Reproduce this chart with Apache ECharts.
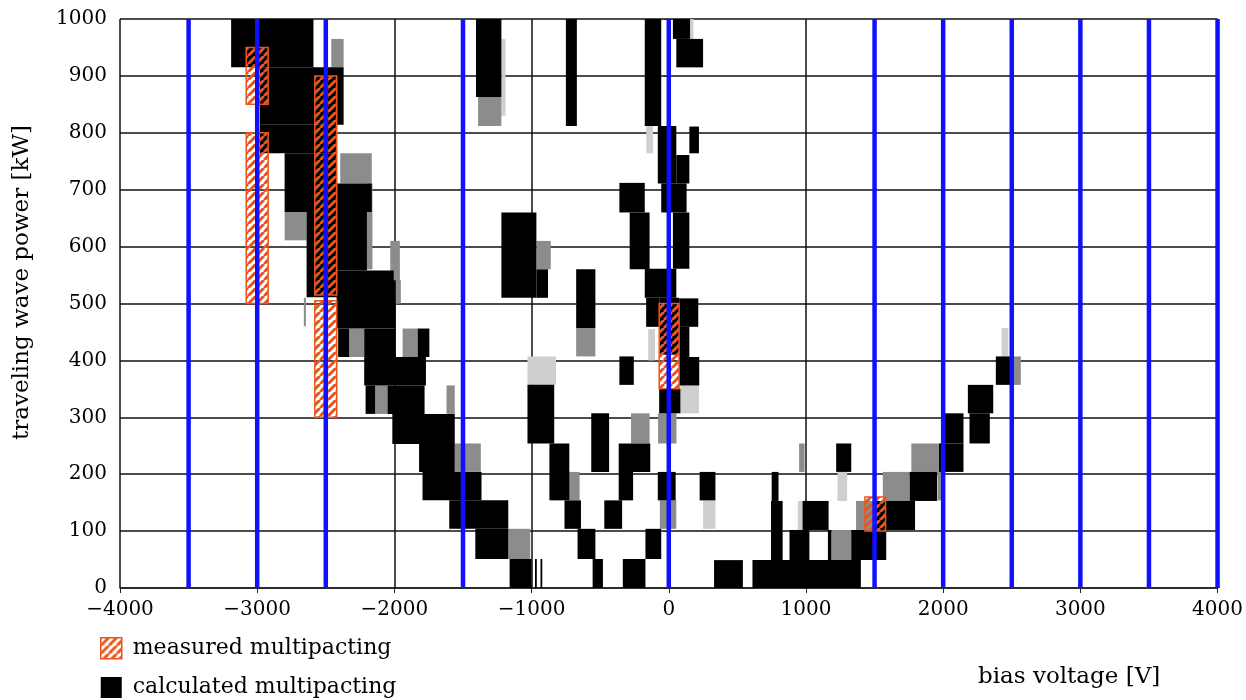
<!DOCTYPE html>
<html>
<head>
<meta charset="utf-8">
<script src="https://cdn.jsdelivr.net/npm/echarts@6/dist/echarts.min.js"></script>
<style>
html,body{margin:0;padding:0;background:#fff;}
#chart{width:1246px;height:700px;}
</style>
</head>
<body>
<div id="chart"></div>
<script>
// ---- data (voltage range [V] x0,x1 ; power range [kW] y0,y1) ----
const xTicks = [-4000, -3000, -2000, -1000, 0, 1000, 2000, 3000, 4000];
const yTicks = [0, 100, 200, 300, 400, 500, 600, 700, 800, 900, 1000];
const blueLines = [-3500, -3000, -2500, -1500, 0, 1500, 2000, 2500, 3000, 3500, 4000];

const measuredRects = [
  [-3080, -2920, 850, 950],
  [-3080, -2920, 500, 800],
  [-2580, -2420, 515, 900],
  [-2580, -2420, 300, 505],
  [-70, 75, 350, 500],
  [1430, 1580, 100, 160]
];

const calculatedRects = [
  [-3190,-2590,915,1000],[-2980,-2370,814,915],[-2980,-2420,764,814],[-2800,-2420,661,764],
  [-2420,-2165,661,711],[-2640,-2420,511,661],[-2420,-2200,558,661],[-2420,-2005,500,558],
  [-2420,-1990,456,541],[-2410,-2330,406,456],[-2220,-1990,406,456],[-1830,-1745,406,456],
  [-2220,-1770,356,406],[-2210,-2140,306,356],[-2050,-1780,306,356],[-2015,-1560,253,306],
  [-1820,-1560,204,253],[-1795,-1365,154,204],[-1600,-1170,104,154],[-1410,-1170,51,104],
  [-1160,-1000,0,51],[-975,-962,0,51],[-935,-922,0,51],
  [-1405,-1220,863,1000],[-750,-670,812,1000],[-175,-55,812,1000],[30,155,965,1000],[55,250,915,965],
  [-80,55,711,812],[55,150,711,761],[150,220,764,811],[-55,130,660,711],[30,150,561,660],
  [-360,-175,660,712],[-285,-140,560,660],[-1220,-965,510,660],[-965,-880,510,560],
  [-675,-535,457,560],[-175,55,510,561],[-165,-66,459,510],[-66,76,410,510],
  [76,215,459,509],[76,150,406,459],[76,222,356,406],[-70,85,307,350],
  [-360,-255,357,407],[-1030,-835,254,357],[-565,-435,204,307],[-870,-725,154,254],
  [-365,-135,204,254],[-365,-260,154,204],[-760,-640,104,154],[-470,-340,104,154],
  [-665,-535,51,104],[-555,-480,0,51],[-335,-170,0,51],[-170,-55,51,104],[-80,50,154,204],
  [225,340,154,204],[330,540,0,49],[610,1400,0,49],[745,830,49,153],[750,800,153,204],
  [880,1025,49,102],[975,1165,102,153],[1160,1185,49,102],[1330,1585,49,102],[1500,1580,102,153],
  [1220,1330,204,254],[1580,1795,102,153],[1756,1956,153,204],[1970,2148,204,254],
  [2007,2148,254,307],[2180,2365,307,357],[2192,2340,254,307],[2384,2488,357,407]
];

const calculatedGrayRects = [
  [-2460,-2370,915,965],[-2395,-2165,711,764],[-2800,-2640,611,661],[-2200,-2160,560,711],
  [-2030,-1960,500,610],[-2330,-2220,406,456],[-1940,-1830,406,456],[-2140,-2050,306,356],
  [-1620,-1560,306,356],[-1560,-1370,204,254],[-1170,-1010,51,104],[-1390,-1220,812,863],
  [-965,-860,560,610],[-675,-535,407,457],[-78,56,254,307],[-275,-140,254,307],
  [-860,-650,154,204],[-65,55,104,154],[1185,1330,49,102],[950,990,204,254],
  [1365,1430,102,153],[1430,1500,102,153],[1560,1756,153,204],[1768,1976,204,254],
  [2488,2566,357,407],[1960,2000,154,204],[-2660,-2645,460,510],[-1990,-1953,500,541]
];

const calculatedLightRects = [
  [-1220,-1190,830,965],[85,220,307,357],[-1030,-822,357,407],[2426,2475,407,457],
  [-164,-115,764,812],[155,180,950,1000],[250,340,104,154],[1230,1300,153,204],
  [-150,-100,400,455],[940,975,102,153]
];

// ---- styles ----
const ORANGE = '#e8561c';
const BLUE = '#1010ff';
const FONT = '"DejaVu Serif", "Liberation Serif", serif';

function makeHatch() {
  const c = document.createElement('canvas');
  c.width = 8; c.height = 8;
  const g = c.getContext('2d');
  g.strokeStyle = ORANGE;
  g.lineWidth = 3;
  g.beginPath();
  for (let k = -8; k <= 8; k += 8) {
    g.moveTo(k, 8); g.lineTo(k + 8, 0);
  }
  g.stroke();
  return c;
}
const hatch = { image: makeHatch(), repeat: 'repeat' };

function rectRender(style) {
  return function (params, api) {
    const a = api.coord([api.value(0), api.value(3)]);
    const b = api.coord([api.value(1), api.value(2)]);
    return {
      type: 'rect',
      shape: { x: a[0], y: a[1], width: b[0] - a[0], height: b[1] - a[1] },
      style: Object.assign({}, style)
    };
  };
}

function lineRender(params, api) {
  const v = api.value(0);
  const a = api.coord([v, 0]);
  const b = api.coord([v, 1000]);
  return {
    type: 'line',
    shape: { x1: a[0], y1: a[1], x2: b[0], y2: b[1] },
    style: { stroke: BLUE, lineWidth: 4.5 }
  };
}

const chart = echarts.init(document.getElementById('chart'), null, { renderer: 'canvas' });

const fmt = v => String(v).replace('-', '\u2212');

chart.setOption({
  animation: false,
  backgroundColor: '#fff',
  grid: { left: 120, right: 28, top: 19, bottom: 112, containLabel: false },
  xAxis: {
    type: 'value', min: -4000, max: 4000, interval: 1000,
    axisLine: { show: true, onZero: false, lineStyle: { color: '#222', width: 1.5 } },
    axisTick: { show: true, length: 5, lineStyle: { color: '#222' } },
    axisLabel: { margin: 12, color: '#000', fontFamily: FONT, fontSize: 20, formatter: fmt,
      customValues: xTicks },
    splitLine: { show: true, lineStyle: { color: '#111', width: 1.5 } }
  },
  yAxis: {
    type: 'value', min: 0, max: 1000, interval: 100,
    name: 'traveling wave power [kW]', nameLocation: 'middle', nameGap: 86,
    nameTextStyle: { color: '#000', fontFamily: FONT, fontSize: 23, padding: [0, 0, 0, 42] },
    axisLine: { show: true, lineStyle: { color: '#444', width: 1.5 } },
    axisTick: { show: true, length: 5, lineStyle: { color: '#222' } },
    axisLabel: { margin: 13, color: '#000', fontFamily: FONT, fontSize: 20, customValues: yTicks,
      formatter: v => String(v) },
    splitLine: { show: true, lineStyle: { color: '#111', width: 1.5 } }
  },
  legend: {
    orient: 'vertical', left: 100, top: 637, padding: 0, height: 63,
    itemWidth: 21, itemHeight: 21, itemGap: 17,
    icon: 'rect', selectedMode: false,
    textStyle: { color: '#000', fontFamily: FONT, fontSize: 22, lineHeight: 21, padding: [0, 0, 0, 6] },
    data: [
      { name: 'measured multipacting', itemStyle: { color: hatch, borderColor: ORANGE, borderWidth: 1.5 } },
      { name: 'calculated multipacting', itemStyle: { color: '#000' } }
    ]
  },
  graphic: [{
    type: 'text', left: 978, top: 666,
    style: { text: 'bias voltage [V]', fill: '#000', font: '23px ' + FONT }
  }],
  series: [
    { type: 'custom', name: 'calc-light', z: 2, silent: true, clip: true,
      renderItem: rectRender({ fill: '#cfcfcf' }), encode: { x: [0, 1], y: [2, 3] },
      data: calculatedLightRects },
    { type: 'custom', name: 'calc-gray', z: 3, silent: true, clip: true,
      renderItem: rectRender({ fill: '#8c8c8c' }), encode: { x: [0, 1], y: [2, 3] },
      data: calculatedGrayRects },
    { type: 'custom', name: 'calculated multipacting', z: 4, silent: true, clip: true,
      itemStyle: { color: '#000' },
      renderItem: rectRender({ fill: '#000' }), encode: { x: [0, 1], y: [2, 3] },
      data: calculatedRects },
    { type: 'custom', name: 'measured multipacting', z: 5, silent: true, clip: true,
      itemStyle: { color: ORANGE },
      renderItem: rectRender({ fill: hatch, stroke: ORANGE, lineWidth: 1.5 }),
      encode: { x: [0, 1], y: [2, 3] },
      data: measuredRects },
    { type: 'custom', name: 'bias lines', z: 6, silent: true, clip: false,
      renderItem: lineRender, encode: { x: 0 },
      data: blueLines.map(v => [v]) }
  ]
});
</script>
</body>
</html>
